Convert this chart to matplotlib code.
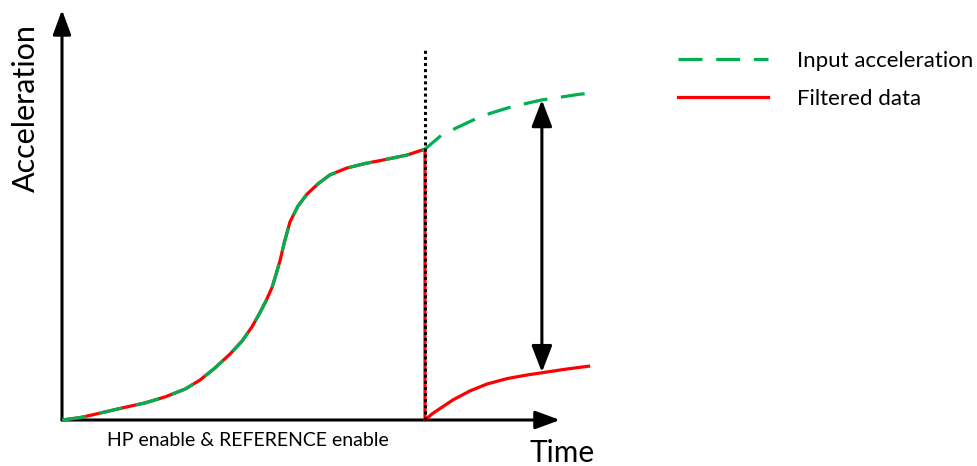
import matplotlib
matplotlib.use('Agg')
import matplotlib.pyplot as plt
from matplotlib.lines import Line2D

plt.rcParams['font.family'] = ['Lato', 'DejaVu Sans']

GREEN = '#00B050'
RED = '#FF0000'

# S-shaped ramp before the switch (time, acceleration)
t_ramp = [0, 0.50, 1.05, 1.65, 2.29, 2.84, 3.39, 3.80, 4.21, 4.63, 4.96, 5.23,
          5.45, 5.62, 5.79, 5.90, 6.01, 6.12, 6.28, 6.50, 6.75, 7.05, 7.38,
          7.85, 8.35, 8.90, 9.50, 10.0]
a_ramp = [0, 0.08, 0.23, 0.40, 0.57, 0.77, 1.03, 1.33, 1.73, 2.20, 2.63, 3.10,
          3.57, 3.97, 4.43, 4.87, 5.33, 5.90, 6.60, 7.13, 7.53, 7.87, 8.17,
          8.40, 8.55, 8.68, 8.83, 9.03]

# input acceleration after the switch
t_in_after = [10.0, 10.46, 10.87, 11.33, 11.79, 12.30, 12.71, 13.22, 13.72, 14.27, 14.55]
a_in_after = [9.03, 9.50, 9.74, 10.00, 10.22, 10.41, 10.53, 10.67, 10.76, 10.86, 10.89]

# filtered data after the switch (drops to zero, then rises again)
t_filt_after = [10.0, 10.0, 10.19, 10.41, 10.77, 11.24, 11.71, 12.26, 12.81, 13.25, 13.91, 14.55]
a_filt_after = [9.03, 0.0, 0.20, 0.38, 0.67, 0.97, 1.20, 1.38, 1.50, 1.58, 1.70, 1.80]

t_switch = 10.0
switch_top = 12.4
t_gap = 13.22
gap_lo, gap_hi = 1.59, 10.67

X_END, Y_END = 13.72, 13.67

fig = plt.figure(figsize=(9.77, 4.66), dpi=100)
ax = fig.add_axes([0, 0, 1, 1])
ax.set_xlim(-62 / 36.3, (977 - 62) / 36.3)
ax.set_ylim((420 - 466) / 30, 420 / 30)
ax.axis('off')

head = '-|>,head_length=0.6,head_width=0.22'
for xy in [(X_END, 0), (0, Y_END)]:
    ax.annotate('', xy=xy, xytext=(0, 0),
                arrowprops=dict(arrowstyle=head, lw=2.2, color='black',
                                mutation_scale=25, shrinkA=0, shrinkB=0))

lw = 2.3
ax.plot(t_ramp + t_filt_after[1:], a_ramp + a_filt_after[1:], color=RED, lw=lw,
        solid_capstyle='butt', solid_joinstyle='round', zorder=3)
ax.plot(t_ramp + t_in_after[1:], a_ramp + a_in_after[1:], color=GREEN, lw=lw,
        dashes=(7.5, 4.3), zorder=4)
ax.plot([t_switch, t_switch], [0, switch_top], color='black', lw=2.2,
        dashes=(1.0, 1.0), zorder=5)

ax.annotate('', xy=(t_gap, gap_hi), xytext=(t_gap, gap_lo),
            arrowprops=dict(arrowstyle='<|-|>,head_length=0.65,head_width=0.25',
                            lw=2.2, color='black', mutation_scale=25,
                            shrinkA=0, shrinkB=0))

ax.text(-1.0, 10.4, 'Acceleration', rotation=90, fontsize=22,
        ha='center', va='center')
ax.text(13.77, -1.1, 'Time', fontsize=21.5, ha='center', va='center')
ax.text(5.12, -0.67, 'HP enable & REFERENCE enable', fontsize=14,
        ha='center', va='center')

handles = [Line2D([], [], color=GREEN, lw=lw, dashes=(7.5, 4.3)),
           Line2D([], [], color=RED, lw=lw)]
ax.legend(handles, ['Input acceleration', 'Filtered data'],
          loc='upper left', bbox_to_anchor=(678 / 977, 1 - 51 / 466),
          bbox_transform=fig.transFigure, frameon=False, fontsize=16,
          handlelength=4.05, handletextpad=1.3, labelspacing=0.8,
          borderaxespad=0, borderpad=0)

fig.savefig('out.png', dpi=100)
